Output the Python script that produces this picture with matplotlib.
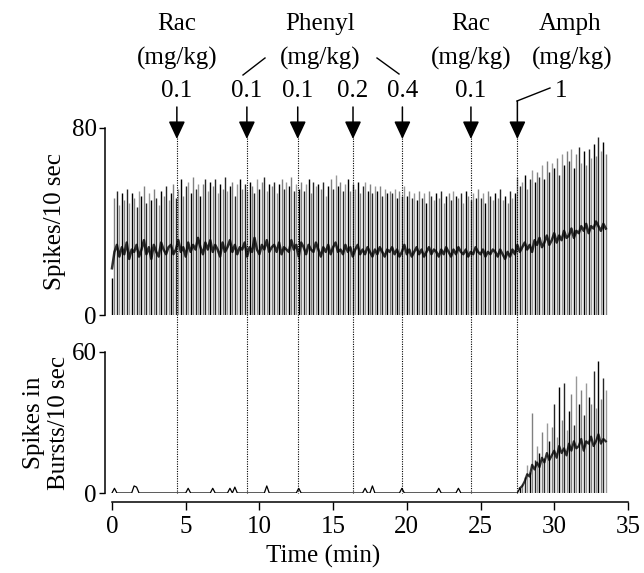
import numpy as np
import matplotlib
matplotlib.use('Agg')
import matplotlib.pyplot as plt
from matplotlib.lines import Line2D
from matplotlib import transforms

plt.rcParams['font.family'] = ['Liberation Serif', 'DejaVu Serif']

# spikes per 10 s bin, stroke tops (bin width 10 s)
spike_peaks = [16, 50, 53, 47, 52, 49,  54, 48, 52, 50, 46, 53,  51, 55, 48, 52, 49, 54,
               50, 47, 53, 51, 55, 49,  52, 56, 50, 54, 58, 51,  55, 57, 52, 59, 54, 56,
               51, 56, 58, 53, 57, 55,  58, 52, 56, 54, 59, 53,  55, 57, 51, 56, 58, 54,
               56, 53, 57, 55, 52, 58,  54, 57, 59, 53, 56, 55,  57, 52, 56, 58, 54, 57,
               55, 59, 53, 56, 54, 57,  53, 56, 58, 52, 57, 55,  56, 54, 57, 51, 55, 58,
               54, 60, 55, 57, 53, 56,  58, 53, 56, 54, 57, 52,  55, 57, 53, 56, 52, 55,
               53, 55, 51, 54, 52, 53,  52, 54, 50, 53, 51, 55,  51, 53, 50, 52, 49, 53,
               50, 52, 48, 53, 51, 49,  52, 50, 53, 48, 51, 52,  49, 53, 51, 50, 52, 48,
               53, 51, 49, 52, 50, 54,  50, 52, 48, 53, 51, 49,  52, 50, 54, 49, 51, 48,
               53, 50, 52, 59, 55, 57,  60, 54, 58, 62, 57, 61,  59, 64, 58, 66, 61, 65,
               63, 67, 60, 69, 64, 70,  66, 71, 63, 69, 72, 65,  70, 64, 71, 67, 73, 68,
               76, 70, 74, 69]
# dark middle band of the spike trace
spike_band = [20, 27, 30, 25, 29, 26,  31, 24, 28, 27, 30, 25,  28, 32, 26, 29, 24, 30,
              27, 25, 31, 28, 26, 29,  30, 26, 28, 32, 27, 29,  25, 31, 27, 30, 28, 33,
              29, 26, 31, 28, 32, 27,  30, 28, 25, 31, 27, 29,  32, 27, 30, 26, 29, 28,
              31, 25, 29, 27, 33, 28,  26, 30, 28, 32, 27, 29,  30, 27, 31, 26, 29, 28,
              27, 32, 28, 30, 25, 31,  29, 26, 30, 28, 27, 31,  28, 25, 29, 27, 30, 26,
              29, 31, 27, 28, 26, 30,  27, 29, 25, 28, 30, 26,  28, 26, 29, 27, 25, 28,
              26, 29, 27, 25, 28, 27,  29, 26, 28, 25, 27, 30,  26, 28, 25, 27, 29, 26,
              28, 25, 27, 29, 26, 28,  27, 25, 28, 26, 29, 27,  25, 28, 26, 29, 27, 26,
              28, 25, 27, 26, 29, 27,  26, 28, 25, 27, 26, 28,  27, 25, 28, 26, 24, 27,
              25, 28, 26, 30, 27, 29,  31, 28, 30, 27, 32, 30,  33, 29, 31, 34, 30, 32,
              35, 31, 34, 32, 36, 33,  34, 37, 33, 36, 35, 38,  36, 39, 35, 38, 37, 40,
              38, 36, 39, 37]

# spikes in bursts: isolated small events before amphetamine
bump_times = [0.1, 1.45, 1.6, 5.2, 6.85, 8.0, 8.35, 10.55, 12.7, 17.2, 17.7, 19.7, 22.2, 23.55]
bump_heights = [2, 3, 2.5, 2, 2, 2, 2.5, 3, 2, 2, 3, 2, 2, 2]
# bursting after amphetamine, from bin 166 (27.7 min) on
burst_start_bin = 166
burst_peaks = [2, 4,  7, 12, 9, 34, 14, 20,  17, 26, 15, 30, 22, 28,
               38, 24, 45, 31, 47, 27,  35, 42, 29, 50, 38, 44,
               33, 47, 41, 38, 52, 36,  56, 40, 49, 44]
burst_band = [2, 3, 5, 8, 7, 12, 10, 13, 11, 15, 13, 17, 14, 16, 18, 15, 20, 17,
              19, 16, 21, 18, 22, 19, 20, 23, 18, 22, 21, 24, 20, 22, 25, 21, 23, 22]

# drug injections (min)
inj_times = [4.4, 9.15, 12.6, 16.35, 19.7, 24.35, 27.5]
inj_doses = ['0.1', '0.1', '0.1', '0.2', '0.4', '0.1', '1']

W, H = 644, 573
fig = plt.figure(figsize=(W / 100, H / 100), dpi=100)

def fx(px):
    return px / W

def fy(py):
    return 1 - py / H

stroke_cols = ['black', '0.5', '0.15', '0.6']

x_lo, x_hi = -0.475, 35.48
ax_top = fig.add_axes([fx(105), fy(315), fx(530), fy(128) - fy(315)])
ax_bot = fig.add_axes([fx(105), fy(493), fx(530), fy(352) - fy(493)])

t = np.arange(len(spike_peaks)) / 6.0
ax_top.vlines(t, 0, spike_peaks, colors=stroke_cols, lw=1.0)
ax_top.plot(t, spike_band, color='black', lw=1.8, alpha=0.8)
ax_top.set_xlim(x_lo, x_hi)
ax_top.set_ylim(0, 80)

bursts = np.zeros(burst_start_bin + 1)
for bt, bh in zip(bump_times, bump_heights):
    bursts[int(round(bt * 6))] = bh
bursts[burst_start_bin] = burst_peaks[0]
tb = t[burst_start_bin:burst_start_bin + len(burst_peaks)]
ax_bot.plot(t[:burst_start_bin + 1], bursts, color='black', lw=0.9)
ax_bot.vlines(tb, 0, burst_peaks, colors=stroke_cols, lw=1.0)
ax_bot.plot(tb, burst_band, color='black', lw=1.6, alpha=0.8)
ax_bot.set_xlim(x_lo, x_hi)
ax_bot.set_ylim(0, 60)

for ax, top in ((ax_top, 80), (ax_bot, 60)):
    for s in ('top', 'right'):
        ax.spines[s].set_visible(False)
    ax.spines['left'].set_linewidth(1.1)
    ax.set_yticks([0, top])
    ax.tick_params(axis='y', direction='out', length=4, width=1, labelsize=18, pad=2)

ax_top.spines['bottom'].set_visible(False)
ax_top.tick_params(axis='x', bottom=False, labelbottom=False)

ax_bot.spines['bottom'].set_position(('outward', 6.5))
ax_bot.spines['bottom'].set_bounds(0, 35)
ax_bot.spines['bottom'].set_linewidth(1.1)
ax_bot.set_xticks(np.arange(0, 36, 5))
ax_bot.tick_params(axis='x', direction='out', length=6, width=1, labelsize=18, pad=4)

ax_top.set_ylabel('Spikes/10 sec', fontsize=18)
ax_top.yaxis.set_label_coords(-(105 - 66) / 530, 0.5)
ax_bot.set_ylabel('Spikes in\nBursts/10 sec', fontsize=18, linespacing=1.15)
ax_bot.yaxis.set_label_coords(-(105 - 70) / 530, 0.5)
fig.text(fx(323), fy(556), 'Time (min)', fontsize=18, ha='center', va='center')

# injection markers
blend = transforms.blended_transform_factory(ax_bot.transData, fig.transFigure)
for it in inj_times:
    fig.add_artist(Line2D([it, it], [fy(138), fy(493)], transform=blend,
                          color='black', lw=0.8, ls=(0, (1, 1.2))))
    shaft_top = 101 if it == inj_times[-1] else 107
    ax_bot.annotate('', xy=(it, H - 139), xytext=(it, H - shaft_top),
                    xycoords=('data', 'figure pixels'), textcoords=('data', 'figure pixels'),
                    arrowprops=dict(arrowstyle='-|>,head_length=0.6,head_width=0.28',
                                    mutation_scale=18, color='black', lw=1.1,
                                    shrinkA=0, shrinkB=0), annotation_clip=False)

def label(x, y, s):
    ax_bot.annotate(s, xy=(x, H - y), xycoords=('data', 'figure pixels'),
                    ha='center', va='center', fontsize=18, annotation_clip=False)

for it, d in zip(inj_times[:-1], inj_doses[:-1]):
    label(it, 91, d)
label(30.45, 91, inj_doses[-1])

label(inj_times[0], 24, 'Rac')
label(inj_times[0], 58, '(mg/kg)')
label(14.1, 24, 'Phenyl')
label(14.1, 58, '(mg/kg)')
label(inj_times[5], 24, 'Rac')
label(inj_times[5], 58, '(mg/kg)')
label(31.1, 24, 'Amph')
label(31.2, 58, '(mg/kg)')

def connector(xs, ys):
    fig.add_artist(Line2D([fx(v) for v in xs], [fy(v) for v in ys],
                          transform=fig.transFigure, color='black', lw=1.0))

connector([243, 265], [75, 58])
connector([377, 399], [58, 74])
connector([517, 550], [101, 88])

fig.savefig('out.png', dpi=100)
